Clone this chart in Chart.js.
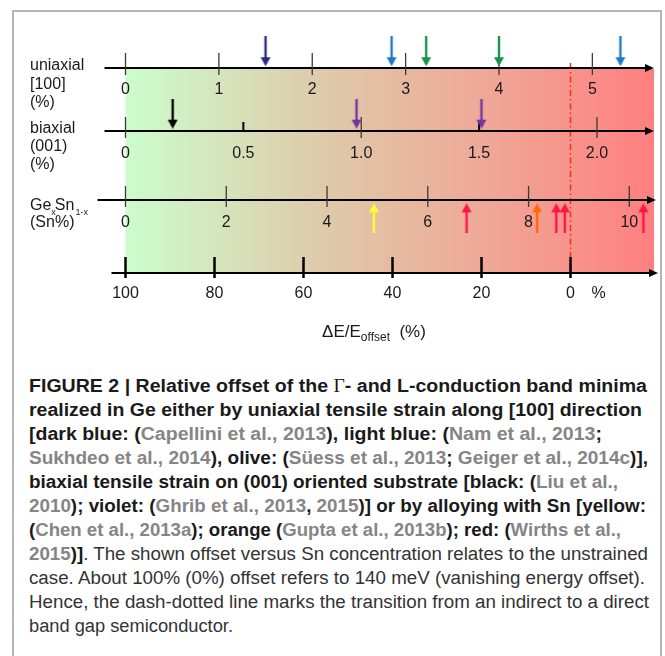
<!DOCTYPE html>
<html><head><meta charset="utf-8">
<script src="https://cdn.jsdelivr.net/npm/chart.js@4"></script>
<style>
html,body{margin:0;padding:0;background:#fff;width:665px;height:656px;overflow:hidden;}
#frame{position:absolute;left:12px;top:10px;width:646px;height:700px;border:2px solid #b5b5b5;border-bottom:none;}
#wrap{position:absolute;left:0;top:0;width:665px;height:356px;}
#caption{position:absolute;left:29px;top:374px;font-family:"Liberation Sans",Arial,sans-serif;font-size:18px;line-height:24px;color:#333;}
.ln{white-space:nowrap;display:block;height:24px;}
.ln>span{display:inline-block;transform-origin:0 50%;white-space:nowrap;}
b{font-weight:700;color:#1a1a1a}
.c{font-weight:700;color:#858585}
.g{font-family:"Liberation Serif","Times New Roman",serif;font-weight:400;color:#1a1a1a}
</style>
</head><body>
<div id="frame"></div>
<div id="wrap"><canvas id="c" width="665" height="356"></canvas></div>
<div id="caption">
<div class="ln" data-w="618"><span><b>FIGURE 2 | Relative offset of the </b><span class="g">Γ</span><b>- and L-conduction band minima</b></span></div>
<div class="ln" data-w="613"><span><b>realized in Ge either by uniaxial tensile strain along [100] direction</b></span></div>
<div class="ln" data-w="573"><span><b>[dark blue: (</b><span class="c">Capellini et al., 2013</span><b>), light blue: (</b><span class="c">Nam et al., 2013</span><b>;</b></span></div>
<div class="ln" data-w="619"><span><span class="c">Sukhdeo et al., 2014</span><b>), olive: (</b><span class="c">Süess et al., 2013</span><b>; </b><span class="c">Geiger et al., 2014c</span><b>)],</b></span></div>
<div class="ln" data-w="589"><span><b>biaxial tensile strain on (001) oriented substrate [black: (</b><span class="c">Liu et al.,</span></span></div>
<div class="ln" data-w="617"><span><span class="c">2010</span><b>); violet: (</b><span class="c">Ghrib et al., 2013</span><b>, </b><span class="c">2015</span><b>)] or by alloying with Sn [yellow:</b></span></div>
<div class="ln" data-w="592"><span><b>(</b><span class="c">Chen et al., 2013a</span><b>); orange (</b><span class="c">Gupta et al., 2013b</span><b>); red: (</b><span class="c">Wirths et al.,</span></span></div>
<div class="ln" data-w="619"><span><span class="c">2015</span><b>)]</b>. The shown offset versus Sn concentration relates to the unstrained</span></div>
<div class="ln" data-w="616"><span>case. About 100% (0%) offset refers to 140 meV (vanishing energy offset).</span></div>
<div class="ln" data-w="620"><span>Hence, the dash-dotted line marks the transition from an indirect to a direct</span></div>
<div class="ln" data-w="204"><span>band gap semiconductor.</span></div>
</div>
<script>
// ---------- data ----------
const uniaxialTicks = [0, 1, 2, 3, 4, 5];
const uniaxialTickLabels = ['0', '1', '2', '3', '4', '5'];
const biaxialTicks = [0, 0.5, 1.0, 1.5, 2.0];
const biaxialTickLabels = ['0', '0.5', '1.0', '1.5', '2.0'];
const biaxialShortTicks = [0.5, 1.5];
const snTicks = [0, 2, 4, 6, 8, 10];
const snTickLabels = ['0', '2', '4', '6', '8', '10'];
const offsetTicks = [100, 80, 60, 40, 20, 0];
const offsetTickLabels = ['100', '80', '60', '40', '20', '0'];

// uniaxial [100] strain (%)
const uniCapellini = [1.5];          // dark blue
const uniNamSukhdeo = [2.85, 5.3];   // light blue
const uniSuessGeiger = [3.22, 4.0];  // olive
// biaxial (001) strain (%)
const biLiu = [0.2];                 // black
const biGhrib = [0.98, 1.51];        // violet
// GeSn (Sn %)
const snChen = [4.93];               // yellow
const snGupta = [8.17];              // orange
const snWirths = [6.77, 8.55, 8.72, 10.28]; // red
// direct/indirect transition (ΔE/E_offset %)
const transitionOffset = 0;

// ---------- layout ----------
const FONT = '"Liberation Sans", Arial, sans-serif';
const ROW = {u: 68, b: 131, s: 200, e: 273};

function makeArrow(color, up) {
  const c = document.createElement('canvas');
  c.width = 12; c.height = 30;
  const g = c.getContext('2d');
  g.fillStyle = color;
  if (!up) {
    g.fillRect(4.8, 0, 2.4, 22);
    g.beginPath(); g.moveTo(1, 21); g.lineTo(11, 21); g.lineTo(6, 30); g.closePath(); g.fill();
  } else {
    g.fillRect(4.8, 8, 2.4, 22);
    g.beginPath(); g.moveTo(1, 9); g.lineTo(11, 9); g.lineTo(6, 0); g.closePath(); g.fill();
  }
  return c;
}

function arrowSet(label, values, axis, rowY, color, up) {
  return {
    label: label,
    xAxisID: axis,
    yAxisID: 'y',
    data: values.map(v => ({x: v, y: rowY})),
    pointStyle: makeArrow(color, up),
    pointRadius: 6,
    pointHoverRadius: 6,
    showLine: false
  };
}

const datasets = [
  arrowSet('dark blue: Capellini et al., 2013', uniCapellini, 'xU', ROW.u - 22, '#2b2a80', false),
  arrowSet('light blue: Nam et al., 2013; Sukhdeo et al., 2014', uniNamSukhdeo, 'xU', ROW.u - 22, '#1d78c6', false),
  arrowSet('olive: Süess et al., 2013; Geiger et al., 2014c', uniSuessGeiger, 'xU', ROW.u - 22, '#17954a', false),
  arrowSet('black: Liu et al., 2010', biLiu, 'xB', ROW.b - 20, '#000000', false),
  arrowSet('violet: Ghrib et al., 2013, 2015', biGhrib, 'xB', ROW.b - 20, '#7236a0', false),
  arrowSet('yellow: Chen et al., 2013a', snChen, 'xS', ROW.s + 20, '#ffff2e', true),
  arrowSet('orange: Gupta et al., 2013b', snGupta, 'xS', ROW.s + 20, '#ff6a00', true),
  arrowSet('red: Wirths et al., 2015', snWirths, 'xS', ROW.s + 20, '#ff1446', true)
];

const axesSpec = [
  {id: 'xU', row: ROW.u, ticks: uniaxialTicks, labels: uniaxialTickLabels, short: [], from: -21, to: 0, up: 15, down: 7, lw: 1.3, color: '#3a3a3a', dy: 22},
  {id: 'xB', row: ROW.b, ticks: biaxialTicks, labels: biaxialTickLabels, short: biaxialShortTicks, from: -21, to: 0, up: 14, down: 7, lw: 1.3, color: '#3a3a3a', dy: 23},
  {id: 'xS', row: ROW.s, ticks: snTicks, labels: snTickLabels, short: [], from: -28, to: 2, up: 14, down: 7, lw: 1.3, color: '#3a3a3a', dy: 23},
  {id: 'xE', row: ROW.e, ticks: offsetTicks, labels: offsetTickLabels, short: [], from: -14, to: 4, up: 16, down: 5, lw: 2.5, color: '#000', dy: 21}
];

const rowLabels = [
  {t: 'uniaxial', y: 66}, {t: '[100]', y: 85}, {t: '(%)', y: 103},
  {t: 'biaxial', y: 129}, {t: '(001)', y: 147}, {t: '(%)', y: 165},
  {t: '(Sn%)', y: 223}
];

const figurePlugin = {
  id: 'figureAxes',
  beforeDatasetsDraw(chart) {
    const ctx = chart.ctx, ca = chart.chartArea, s = chart.scales;
    ctx.save();
    // gradient background
    const gx0 = s.xU.getPixelForValue(0), gx1 = ca.right;
    const grad = ctx.createLinearGradient(gx0, 0, gx1, 0);
    grad.addColorStop(0, '#ccfdcc');
    grad.addColorStop(0.38, '#dfc9aa');
    grad.addColorStop(0.68, '#efa897');
    grad.addColorStop(1, '#ff7f7f');
    ctx.fillStyle = grad;
    ctx.fillRect(gx0, ROW.u + 1, gx1 - gx0, ROW.e - ROW.u - 1);

    // dash-dotted transition line
    const tx = s.xE.getPixelForValue(transitionOffset);
    ctx.strokeStyle = '#f2300c';
    ctx.lineWidth = 1.5;
    ctx.setLineDash([6, 3, 1.5, 3]);
    ctx.beginPath(); ctx.moveTo(tx, 63); ctx.lineTo(tx, ROW.e + 4); ctx.stroke();
    ctx.setLineDash([]);

    // axes
    ctx.font = '16px ' + FONT;
    ctx.textAlign = 'center';
    ctx.textBaseline = 'middle';
    axesSpec.forEach(a => {
      const sc = s[a.id];
      const x0 = ca.left + a.from, x1 = ca.right + a.to;
      ctx.strokeStyle = '#000'; ctx.fillStyle = '#000'; ctx.lineWidth = 2;
      ctx.beginPath(); ctx.moveTo(x0, a.row); ctx.lineTo(x1 - 6, a.row); ctx.stroke();
      ctx.beginPath(); ctx.moveTo(x1, a.row); ctx.lineTo(x1 - 9, a.row - 4); ctx.lineTo(x1 - 9, a.row + 4); ctx.closePath(); ctx.fill();
      a.ticks.forEach((v, i) => {
        const px = sc.getPixelForValue(v);
        const isShort = a.short.indexOf(v) >= 0;
        ctx.strokeStyle = isShort ? '#000' : a.color;
        ctx.lineWidth = isShort ? 2 : a.lw;
        ctx.beginPath();
        ctx.moveTo(px, a.row - (isShort ? 9 : a.up));
        ctx.lineTo(px, a.row + (isShort ? 0 : a.down));
        ctx.stroke();
        ctx.fillStyle = '#1a1a1a';
        ctx.fillText(a.labels[i], px, a.row + a.dy);
      });
    });
    ctx.fillText('%', s.xE.getPixelForValue(0) + 28, ROW.e + 21);

    // row labels
    ctx.textAlign = 'left';
    rowLabels.forEach(r => ctx.fillText(r.t, 30, r.y));
    // Ge_xSn_1-x
    let x = 30;
    ctx.font = '16px ' + FONT; ctx.fillText('Ge', x, 206); x += ctx.measureText('Ge').width;
    ctx.font = '9px ' + FONT; ctx.fillText('x', x, 213); x += 3.5;
    ctx.font = '16px ' + FONT; ctx.fillText('Sn', x, 206); x += ctx.measureText('Sn').width + 1;
    ctx.font = '9px ' + FONT; ctx.fillText('1-x', x, 213);

    // axis title ΔE/E_offset (%)
    ctx.textBaseline = 'alphabetic';
    const parts = [['ΔE/E', '17px', 337], ['offset', '12px', 341], ['  (%)', '17px', 337]];
    let w = 0;
    parts.forEach(p => { ctx.font = p[1] + ' ' + FONT; w += ctx.measureText(p[0]).width; });
    x = 374 - w / 2;
    parts.forEach(p => { ctx.font = p[1] + ' ' + FONT; ctx.fillText(p[0], x, p[2]); x += ctx.measureText(p[0]).width; });
    ctx.restore();
  }
};

new Chart(document.getElementById('c'), {
  type: 'scatter',
  data: {datasets: datasets},
  options: {
    responsive: false,
    animation: false,
    events: [],
    layout: {padding: {left: 125.5, right: 11, top: 0, bottom: 0}},
    plugins: {legend: {display: false}, tooltip: {enabled: false}},
    scales: {
      xU: {type: 'linear', position: 'bottom', display: false, min: 0, max: 5.66},
      xB: {type: 'linear', position: 'bottom', display: false, min: 0, max: 2.242},
      xS: {type: 'linear', position: 'bottom', display: false, min: 0, max: 10.49},
      xE: {type: 'linear', position: 'bottom', display: false, min: -18.76, max: 100, reverse: true},
      y: {type: 'linear', display: false, min: 0, max: 356, reverse: true}
    }
  },
  plugins: [figurePlugin]
});

// fit caption lines to the reference line lengths
document.querySelectorAll('#caption .ln').forEach(ln => {
  const sp = ln.firstElementChild;
  const target = parseFloat(ln.dataset.w);
  const w = sp.getBoundingClientRect().width;
  if (w > 0) sp.style.transform = 'scaleX(' + (target / w).toFixed(4) + ')';
});
</script>
</body></html>
